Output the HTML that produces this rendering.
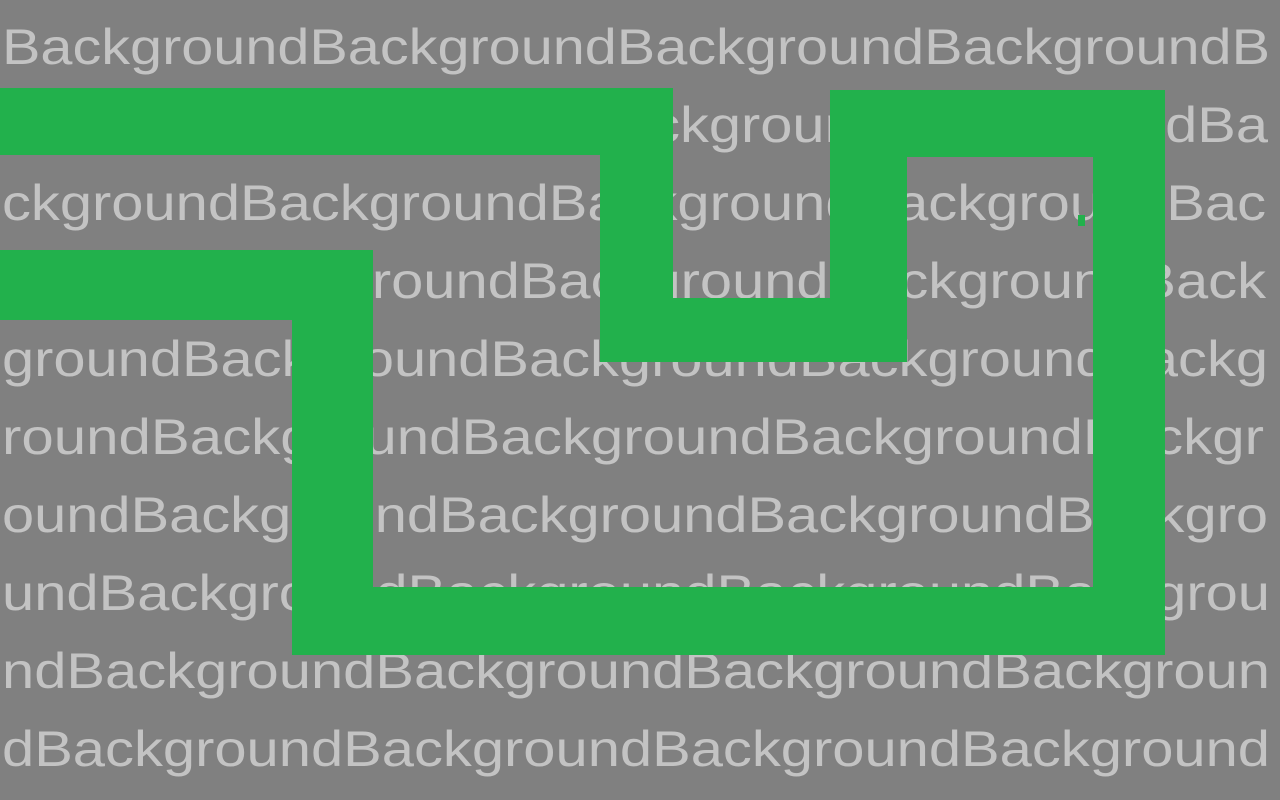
<!DOCTYPE html>
<html><head><meta charset="utf-8"><style>
html,body{margin:0;padding:0;background:#808080;}
svg{display:block;}
</style></head><body>
<svg width="1280" height="800" viewBox="0 0 1280 800" xmlns="http://www.w3.org/2000/svg">
<rect x="0" y="0" width="1280" height="800" fill="#808080"/>
<g font-family="Liberation Sans, sans-serif" font-size="50" fill="#c3c3c3">
<text x="2" y="64" textLength="1268" lengthAdjust="spacingAndGlyphs">BackgroundBackgroundBackgroundBackgroundB</text>
<text x="2" y="142" textLength="1266" lengthAdjust="spacingAndGlyphs">ackgroundBackgroundBackgroundBackgroundBa</text>
<text x="2" y="220" textLength="1264" lengthAdjust="spacingAndGlyphs">ckgroundBackgroundBackgroundBackgroundBac</text>
<text x="2" y="298" textLength="1264" lengthAdjust="spacingAndGlyphs">kgroundBackgroundBackgroundBackgroundBack</text>
<text x="2" y="376" textLength="1266" lengthAdjust="spacingAndGlyphs">groundBackgroundBackgroundBackgroundBackg</text>
<text x="2" y="454" textLength="1262" lengthAdjust="spacingAndGlyphs">roundBackgroundBackgroundBackgroundBackgr</text>
<text x="2" y="532" textLength="1266" lengthAdjust="spacingAndGlyphs">oundBackgroundBackgroundBackgroundBackgro</text>
<text x="2" y="610" textLength="1268" lengthAdjust="spacingAndGlyphs">undBackgroundBackgroundBackgroundBackgrou</text>
<text x="2" y="688" textLength="1268" lengthAdjust="spacingAndGlyphs">ndBackgroundBackgroundBackgroundBackgroun</text>
<text x="2" y="766" textLength="1268" lengthAdjust="spacingAndGlyphs">dBackgroundBackgroundBackgroundBackground</text>
</g>
<g fill="#22b14c">
<rect x="0" y="88" width="673" height="67"/>
<rect x="600" y="88" width="73" height="274"/>
<rect x="600" y="298" width="307" height="64"/>
<rect x="830" y="90" width="77" height="272"/>
<rect x="830" y="90" width="335" height="67"/>
<rect x="1093" y="90" width="72" height="565"/>
<rect x="292" y="587" width="873" height="68"/>
<rect x="292" y="250" width="81" height="405"/>
<rect x="0" y="250" width="373" height="70"/>
<rect x="1078" y="215" width="7" height="11"/>
</g>
</svg>
</body></html>
